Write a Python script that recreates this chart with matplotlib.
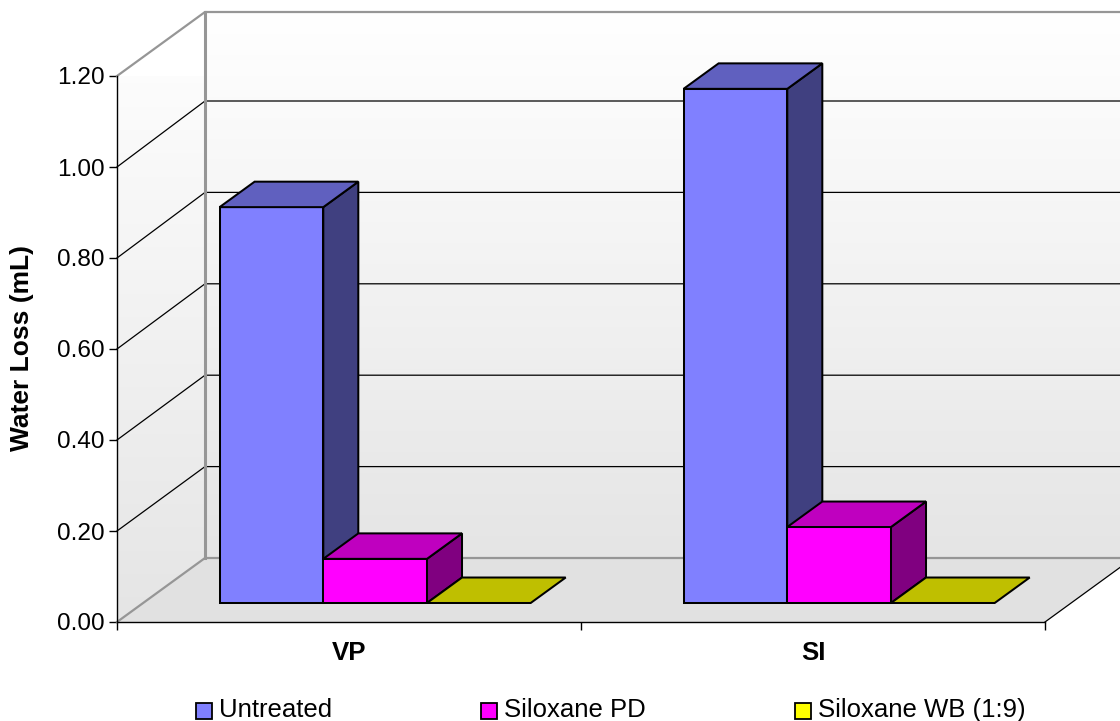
import numpy as np
import matplotlib
matplotlib.use("Agg")
import matplotlib.pyplot as plt
from matplotlib.colors import LinearSegmentedColormap
from matplotlib.legend_handler import HandlerPatch
from matplotlib.patches import Polygon, Patch, Rectangle

categories = ["VP", "SI"]
series_names = ["Untreated", "Siloxane PD", "Siloxane WB (1:9)"]
untreated = [0.87, 1.13]
siloxane_pd = [0.097, 0.167]
siloxane_wb = [0.0, 0.0]
y_ticks = [0.0, 0.2, 0.4, 0.6, 0.8, 1.0, 1.2]

front_colors = ["#8080FF", "#FF00FF", "#FFFF00"]
top_colors = ["#6060BF", "#BF00BF", "#BFBF00"]
side_colors = ["#404080", "#800080", "#808000"]

W, H = 1120, 721
plt.rcParams["font.family"] = ["Liberation Sans", "DejaVu Sans"]
fig = plt.figure(figsize=(W / 100, H / 100), dpi=100, facecolor="white")
L, R, B, T = 117, 1045, 622, 76
ax = fig.add_axes([L / W, 1 - B / H, (R - L) / W, (B - T) / H], facecolor="none")

PX_X = (R - L) / 2
PX_Y = (B - T) / 1.2
DX = 88 / PX_X
DY = 64 / PX_Y
BAR_W = 103.7 / PX_X
D0, D1 = 0.297, 0.695
GRID_SCALE = 457 / 455
ymax = y_ticks[-1]


def proj(x, v, d):
    return (x + d * DX, v + d * DY)


cmap = LinearSegmentedColormap.from_list("wall", ["#E5E5E5", "#FFFFFF"])
grad = np.linspace(0, 1, 256)[::-1].reshape(-1, 1)

# back wall
ax.imshow(grad, cmap=cmap, vmin=0, vmax=1, aspect="auto", interpolation="bilinear",
          extent=(DX, 2 + DX, DY, ymax + DY), zorder=1, clip_on=False)
# side wall
side_poly = Polygon([proj(0, 0, 0), proj(0, 0, 1), proj(0, ymax, 1), proj(0, ymax, 0)],
                    closed=True, transform=ax.transData, facecolor="none", edgecolor="none")
ax.add_patch(side_poly)
side_poly.set_clip_on(False)
im = ax.imshow(grad, cmap=cmap, vmin=0, vmax=1, aspect="auto", interpolation="bilinear",
               extent=(0, DX, 0, ymax + DY), zorder=1)
im.set_clip_path(side_poly)
# floor
ax.add_patch(Polygon([proj(0, 0, 0), proj(2, 0, 0), proj(2, 0, 1), proj(0, 0, 1)],
                     closed=True, facecolor="#E1E1E1", edgecolor="none", zorder=1.5, clip_on=False))

ax.set_xlim(0, 2)
ax.set_ylim(0, ymax)

# gridlines
for v in y_ticks[1:-1]:
    xs, ys = zip(proj(0, v, 0), proj(0, v * GRID_SCALE, 1), proj(2, v * GRID_SCALE, 1))
    ax.plot(xs, ys, color="black", lw=0.9, zorder=2, clip_on=False)

# walls outline
GREY = "#969696"
xs, ys = zip(proj(0, ymax, 0), proj(0, ymax, 1), proj(2, ymax, 1))
ax.plot(xs, ys, color=GREY, lw=1.6, zorder=2, clip_on=False)
xs, ys = zip(proj(0, 0, 1), proj(0, ymax, 1))
ax.plot(xs, ys, color=GREY, lw=2.2, zorder=2, clip_on=False)
xs, ys = zip(proj(0, 0, 0), proj(0, 0, 1), proj(2, 0, 1))
ax.plot(xs, ys, color=GREY, lw=1.6, zorder=2, clip_on=False)
xs, ys = zip(proj(2, 0, 0), proj(2, 0, 1))
ax.plot(xs, ys, color="black", lw=0.9, zorder=2, clip_on=False)

# bars
edge = dict(edgecolor="black", linewidth=1.45, joinstyle="miter", clip_on=False, zorder=3)
series = [untreated, siloxane_pd, siloxane_wb]
for c in range(len(categories)):
    x0 = c + 0.5 - 1.5 * BAR_W
    for s, vals in enumerate(series):
        a, b, v = x0 + s * BAR_W, x0 + (s + 1) * BAR_W, vals[c]
        if v > 0:
            ax.add_patch(Polygon([proj(b, 0, D0), proj(b, 0, D1), proj(b, v, D1), proj(b, v, D0)],
                                 closed=True, facecolor=side_colors[s], **edge))
            ax.add_patch(Polygon([proj(a, 0, D0), proj(b, 0, D0), proj(b, v, D0), proj(a, v, D0)],
                                 closed=True, facecolor=front_colors[s], **edge))
        ax.add_patch(Polygon([proj(a, v, D0), proj(b, v, D0), proj(b, v, D1), proj(a, v, D1)],
                             closed=True, facecolor=top_colors[s], **edge))

# axes
for sp in ("top", "right"):
    ax.spines[sp].set_visible(False)
for sp in ("left", "bottom"):
    ax.spines[sp].set_linewidth(1.0)
    ax.spines[sp].set_zorder(4)
FS = 17.6
ax.set_yticks(y_ticks)
ax.set_yticklabels([f"{v:.2f}" for v in y_ticks], fontsize=FS)
ax.tick_params(axis="y", length=5.8, width=1.0, pad=3)
ax.set_xticks([0, 1, 2])
ax.set_xticklabels([])
ax.tick_params(axis="x", which="major", length=5.8, width=1.0)
ax.set_xticks([c + 0.5 for c in range(len(categories))], minor=True)
ax.set_xticklabels(categories, minor=True, fontsize=18.6, fontweight="bold")
ax.tick_params(axis="x", which="minor", length=0, pad=14)

fig.text(22 / W, 1 - 348 / H, "Water Loss (mL)", rotation=90, fontsize=19,
         fontweight="bold", ha="center", va="center")


def legend_box(legend, orig_handle, xdescent, ydescent, width, height, fontsize):
    return Rectangle((-xdescent, -ydescent - 2.2), width, height)


handles = [Patch(facecolor=front_colors[i], edgecolor="black", linewidth=1.3, label=series_names[i])
           for i in range(3)]
FS_L = 18.5
px = FS_L * 100 / 72
fig.legend(handles=handles, ncol=3, frameon=False, fontsize=FS_L, loc="lower left",
           bbox_to_anchor=(196 / W, -1 / H), borderpad=0, borderaxespad=0,
           handlelength=16 / px, handleheight=15 / px, handletextpad=7 / px,
           columnspacing=149 / px,
           handler_map={Patch: HandlerPatch(patch_func=legend_box)})

fig.savefig("out.png", dpi=100, facecolor="white")
